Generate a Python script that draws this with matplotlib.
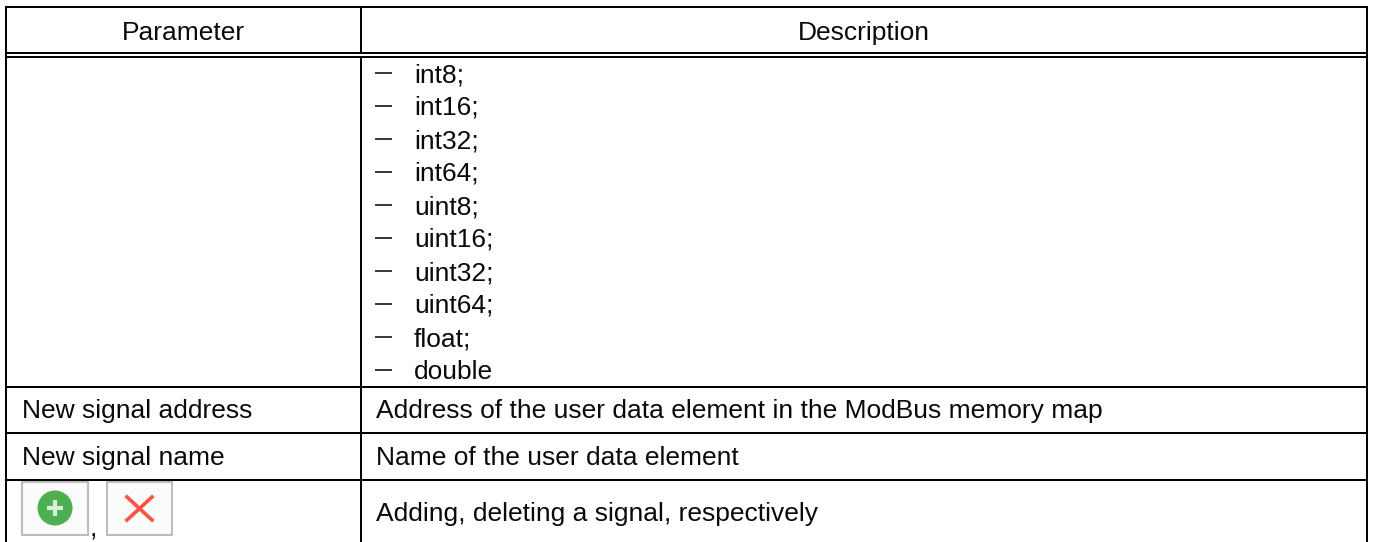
import matplotlib
matplotlib.use('Agg')
import matplotlib.pyplot as plt
from matplotlib.patches import Rectangle, Circle

plt.rcParams['font.family'] = ['Liberation Sans', 'DejaVu Sans']

# Table content
headers = ['Parameter', 'Description']
data_types = ['int8;', 'int16;', 'int32;', 'int64;', 'uint8;', 'uint16;', 'uint32;', 'uint64;', 'float;', 'double']
param_names = ['New signal address', 'New signal name']
param_descriptions = ['Address of the user data element in the ModBus memory map',
                      'Name of the user data element']
last_description = 'Adding, deleting a signal, respectively'

W, H = 1373, 542
LEFT, SEP, RIGHT = 6, 361, 1367
FS = 19

fig = plt.figure(figsize=(W / 100, H / 100), dpi=100)
ax = fig.add_axes([0, 0, 1, 1])
ax.set_xlim(0, W)
ax.set_ylim(H, 0)
ax.axis('off')


def hline(y):
    ax.plot([LEFT, RIGHT], [y, y], color='black', lw=1.45, solid_capstyle='projecting')


def vline(x, y0, y1):
    ax.plot([x, x], [y0, y1], color='black', lw=1.45, solid_capstyle='butt')


def text(x, y, s, ha='left'):
    ax.text(x, y, s, fontsize=FS, ha=ha, va='baseline', color='#0a0a0a')


# Grid lines
for y in [7, 53, 56.5, 387, 433, 480]:
    hline(y)
vline(LEFT, 7, H)
vline(RIGHT, 7, H)
vline(SEP, 7, 52)
vline(SEP, 57, H)

# Header
text((LEFT + SEP) / 2, 40, headers[0], ha='center')
text((SEP + RIGHT) / 2, 40, headers[1], ha='center')

# List of data types
for i, name in enumerate(data_types):
    y = 82 + i * 33
    ax.plot([375, 392], [y - 9, y - 9], color='black', lw=1.1, solid_capstyle='butt')
    text(414, y, name)

# Rows
for y, name, desc in zip([418, 465], param_names, param_descriptions):
    text(22, y, name)
    text(376, y, desc)
text(376, 521, last_description)

# Buttons in the last row
for x0, x1 in [(22, 88), (107, 172)]:
    ax.add_patch(Rectangle((x0, 482), x1 - x0, 53, facecolor='#fbfbfb', edgecolor='#bdbdbd', lw=1.5))
ax.add_patch(Circle((55, 508), 17.5, facecolor='#4caf50', edgecolor='none'))
ax.plot([47, 63], [508, 508], color='#d8efd9', lw=3.0, solid_capstyle='butt')
ax.plot([55, 55], [500, 516], color='#d8efd9', lw=3.0, solid_capstyle='butt')
ax.plot([127, 152], [497, 520], color='#ff5044', lw=2.6)
ax.plot([127, 152], [520, 497], color='#ff5044', lw=2.6)
text(90, 536, ',')

fig.savefig('out.png', dpi=100)
